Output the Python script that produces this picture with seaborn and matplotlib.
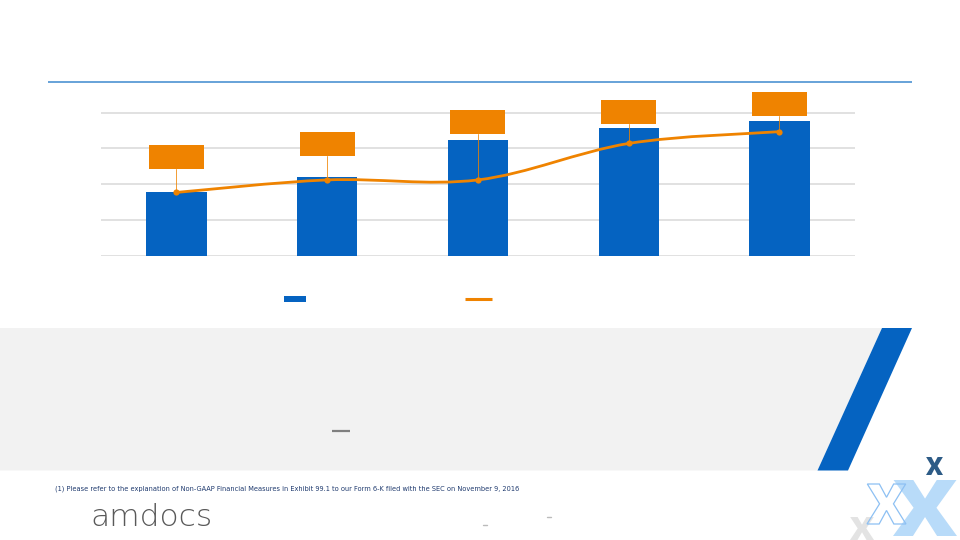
import numpy as np
import pandas as pd
import matplotlib
matplotlib.use("Agg")
import matplotlib.pyplot as plt
import seaborn as sns
from matplotlib.path import Path
from matplotlib.patches import PathPatch, Rectangle, Polygon
from matplotlib.textpath import TextPath
from matplotlib.font_manager import FontProperties
from matplotlib.transforms import Affine2D

# ---------------- data ----------------
categories = ["P1", "P2", "P3", "P4", "P5"]
bar_values = [1.79, 2.19, 3.24, 3.56, 3.78]
line_values = [1.77, 2.12, 2.12, 3.14, 3.47]
label_box_levels = [2.77, 3.12, 3.74, 4.01, 4.24]
grid_ticks = [0, 1, 2, 3, 4]
footnote = ("(1) Please refer to the explanation of Non-GAAP Financial Measures in "
            "Exhibit 99.1 to our Form 6-K filed with the SEC on November 9, 2016")
logo_text = "amdocs"

BLUE = "#0563C1"
ORANGE = "#EF8300"

sns.set_theme(style="white")
plt.rcParams["font.family"] = ["DejaVu Sans"]

fig = plt.figure(figsize=(9.6, 5.4), dpi=100)

# ---------------- background / decoration layer (pixel coords) ----------------
bg = fig.add_axes([0, 0, 1, 1])
bg.set_xlim(0, 960)
bg.set_ylim(540, 0)
bg.axis("off")
bg.set_zorder(0)

bg.plot([48, 912], [82, 82], color="#5B9BD5", lw=1.3, solid_capstyle="butt")
bg.add_patch(Polygon([(0, 328), (882, 328), (817.5, 470.5), (0, 470.5)],
                     closed=True, facecolor="#F2F2F2", edgecolor="none"))
bg.add_patch(Polygon([(882, 328), (912, 328), (848, 470.5), (817.5, 470.5)],
                     closed=True, facecolor=BLUE, edgecolor="none"))
bg.plot([332, 350], [431, 431], color="#808080", lw=1.6, solid_capstyle="butt")
bg.plot([483, 487], [525, 525], color="#BBBBBB", lw=1.0)
bg.plot([547, 551], [517, 517], color="#BBBBBB", lw=1.0)

# legend keys (labels are empty in the reference)
bg.add_patch(Rectangle((284, 296), 22, 6, facecolor=BLUE, edgecolor="none"))
bg.plot([465, 492], [298.5, 298.5], color=ORANGE, lw=2.2, solid_capstyle="butt")

bg.text(55, 489, footnote, fontsize=4.8, color="#1F3A6E", va="center", ha="left",
        family=["Liberation Sans Narrow", "DejaVu Sans"])
bg.text(90, 526, logo_text, fontsize=22.5, color="#595959", va="baseline", ha="left",
        family=["DejaVu Sans"], fontweight=200)


def draw_x(xc, bottom, w, h, face, edge="none", lw=0.0, z=1):
    tp = TextPath((0, 0), "X", size=1,
                  prop=FontProperties(family=["Roboto", "DejaVu Sans"], weight="black"))
    bb = tp.get_extents()
    tr = (Affine2D().translate(-bb.x0 - bb.width / 2, -bb.y0)
          .scale(w / bb.width, -h / bb.height).translate(xc, bottom))
    p = tr.transform_path(tp)
    bg.add_patch(PathPatch(p, facecolor=face, edgecolor=edge, lw=lw, zorder=z))


draw_x(925, 536, 64, 56, "#B8DBF9", z=2)
draw_x(862, 540, 24, 23, "#E3E3E3", z=2)
draw_x(886.5, 524, 39, 40, "none", edge="#8DC0F3", lw=0.9, z=3)
draw_x(934.5, 475, 17, 18, "#2D5B86", z=2)

# ---------------- main chart ----------------
px_unit = 35.75
ax = fig.add_axes([101.1 / 960, (540 - 255.7 - 0.02 * px_unit) / 540,
                   753.75 / 960, (4.04 * px_unit) / 540])
ax.set_zorder(1)
ax.patch.set_alpha(0)

df = pd.DataFrame({"cat": categories, "bar": bar_values, "line": line_values})
sns.barplot(data=df, x="cat", y="bar", color=BLUE, width=0.4, saturation=1,
            edgecolor="none", ax=ax, zorder=2)

ax.set_xlim(-0.5, 4.5)
ax.set_ylim(-0.02, 4.02)
ax.grid(False)
for t in grid_ticks:
    ax.axhline(t, color="#D9D9D9", lw=1.1, zorder=0.5)
for s in ax.spines.values():
    s.set_visible(False)
ax.tick_params(length=0, labelleft=False, labelbottom=False)
ax.set_xlabel("")
ax.set_ylabel("")

# smoothed line (Catmull-Rom style bezier through the data points)
xs = np.arange(len(line_values), dtype=float)
ys = np.array(line_values, dtype=float)
P = np.column_stack([xs, ys])
Pext = np.vstack([P[0], P, P[-1]])
verts = [tuple(P[0])]
codes = [Path.MOVETO]
for i in range(len(P) - 1):
    p0, p1, p2, p3 = Pext[i], Pext[i + 1], Pext[i + 2], Pext[i + 3]
    c1 = p1 + (p2 - p0) / 6.0
    c2 = p2 - (p3 - p1) / 6.0
    verts += [tuple(c1), tuple(c2), tuple(p2)]
    codes += [Path.CURVE4, Path.CURVE4, Path.CURVE4]
ax.add_patch(PathPatch(Path(verts, codes), fill=False, edgecolor=ORANGE, lw=2.0,
                       capstyle="round", zorder=4))
sns.scatterplot(data=df, x="cat", y="line", color=ORANGE, s=20, edgecolor=ORANGE,
                linewidth=0, ax=ax, zorder=5, legend=False)
ax.set_xlabel("")
ax.set_ylabel("")

# data label boxes (text empty in reference) with leader lines
box_w, box_h = 0.365, 0.67
for i, (lvl, yv) in enumerate(zip(label_box_levels, line_values)):
    ax.plot([i, i], [lvl - box_h / 2, yv], color=ORANGE, lw=0.7, alpha=0.8,
            zorder=3, clip_on=False)
    ax.add_patch(Rectangle((i - box_w / 2, lvl - box_h / 2), box_w, box_h,
                           facecolor=ORANGE, edgecolor="none", zorder=6, clip_on=False))

fig.savefig("out.png", dpi=100)
